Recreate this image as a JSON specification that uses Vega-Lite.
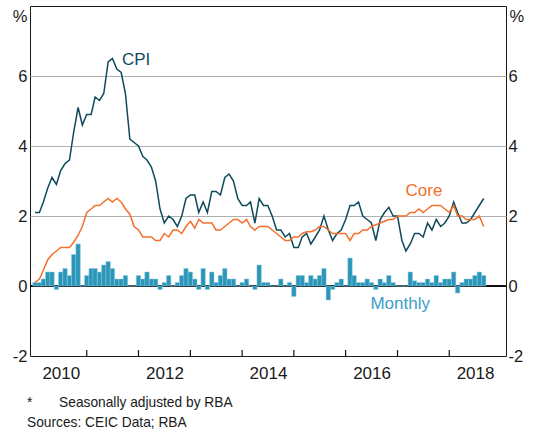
{
  "$schema": "https://vega.github.io/schema/vega-lite/v6.json",
  "width": 476,
  "height": 350,
  "autosize": {"type": "none"},
  "padding": {"left": 30, "top": 6, "right": 27, "bottom": 77},
  "background": "white",
  "config": {
    "view": {"stroke": "#1a1a1a", "strokeWidth": 1},
    "font": "Liberation Sans",
    "axis": {"labelFont": "Liberation Sans", "titleFont": "Liberation Sans", "labelColor": "#1a1a1a", "titleColor": "#1a1a1a", "titleFontWeight": "normal"}
  },
  "title": {
    "text": "*\u00a0\u00a0\u00a0\u00a0\u00a0\u00a0\u00a0Seasonally adjusted by RBA",
    "subtitle": "Sources: CEIC Data; RBA",
    "orient": "bottom",
    "anchor": "start",
    "frame": "group",
    "offset": 15,
    "dx": -3,
    "font": "Liberation Sans",
    "fontSize": 13.75,
    "fontWeight": "normal",
    "color": "#1a1a1a",
    "subtitleFont": "Liberation Sans",
    "subtitleFontSize": 13.75,
    "subtitleColor": "#1a1a1a",
    "subtitlePadding": 6
  },
  "datasets": {
    "yearStarts": [
      {"year_start": "2011-01-01"},
      {"year_start": "2012-01-01"},
      {"year_start": "2013-01-01"},
      {"year_start": "2014-01-01"},
      {"year_start": "2015-01-01"},
      {"year_start": "2016-01-01"},
      {"year_start": "2017-01-01"},
      {"year_start": "2018-01-01"}
    ]
  },
  "data": {
    "values": [
      {"date": "2010-01-01", "cpi": 2.1, "core": 0.1, "monthly": 0.1},
      {"date": "2010-02-01", "cpi": 2.1, "core": 0.2, "monthly": 0.1},
      {"date": "2010-03-01", "cpi": 2.4, "core": 0.45, "monthly": 0.2},
      {"date": "2010-04-01", "cpi": 2.8, "core": 0.75, "monthly": 0.4},
      {"date": "2010-05-01", "cpi": 3.1, "core": 0.9, "monthly": 0.4},
      {"date": "2010-06-01", "cpi": 2.9, "core": 1.0, "monthly": -0.1},
      {"date": "2010-07-01", "cpi": 3.3, "core": 1.1, "monthly": 0.4},
      {"date": "2010-08-01", "cpi": 3.5, "core": 1.1, "monthly": 0.5},
      {"date": "2010-09-01", "cpi": 3.6, "core": 1.1, "monthly": 0.3},
      {"date": "2010-10-01", "cpi": 4.4, "core": 1.25, "monthly": 0.9},
      {"date": "2010-11-01", "cpi": 5.1, "core": 1.45, "monthly": 1.2},
      {"date": "2010-12-01", "cpi": 4.6, "core": 1.7, "monthly": 0},
      {"date": "2011-01-01", "cpi": 4.9, "core": 2.1, "monthly": 0.3},
      {"date": "2011-02-01", "cpi": 4.9, "core": 2.2, "monthly": 0.5},
      {"date": "2011-03-01", "cpi": 5.4, "core": 2.3, "monthly": 0.5},
      {"date": "2011-04-01", "cpi": 5.3, "core": 2.3, "monthly": 0.4},
      {"date": "2011-05-01", "cpi": 5.5, "core": 2.4, "monthly": 0.6},
      {"date": "2011-06-01", "cpi": 6.4, "core": 2.5, "monthly": 0.7},
      {"date": "2011-07-01", "cpi": 6.5, "core": 2.4, "monthly": 0.5},
      {"date": "2011-08-01", "cpi": 6.2, "core": 2.5, "monthly": 0.2},
      {"date": "2011-09-01", "cpi": 6.1, "core": 2.4, "monthly": 0.2},
      {"date": "2011-10-01", "cpi": 5.5, "core": 2.2, "monthly": 0.3},
      {"date": "2011-11-01", "cpi": 4.2, "core": 2.05, "monthly": 0},
      {"date": "2011-12-01", "cpi": 4.1, "core": 1.7, "monthly": 0},
      {"date": "2012-01-01", "cpi": 4.0, "core": 1.6, "monthly": 0.3},
      {"date": "2012-02-01", "cpi": 3.7, "core": 1.4, "monthly": 0.2},
      {"date": "2012-03-01", "cpi": 3.6, "core": 1.4, "monthly": 0.4},
      {"date": "2012-04-01", "cpi": 3.4, "core": 1.4, "monthly": 0.2},
      {"date": "2012-05-01", "cpi": 3.0, "core": 1.3, "monthly": 0.2},
      {"date": "2012-06-01", "cpi": 2.2, "core": 1.3, "monthly": -0.1},
      {"date": "2012-07-01", "cpi": 1.8, "core": 1.5, "monthly": 0.1},
      {"date": "2012-08-01", "cpi": 2.0, "core": 1.4, "monthly": 0.3},
      {"date": "2012-09-01", "cpi": 1.9, "core": 1.6, "monthly": 0},
      {"date": "2012-10-01", "cpi": 1.7, "core": 1.6, "monthly": 0.1},
      {"date": "2012-11-01", "cpi": 2.0, "core": 1.5, "monthly": 0.3},
      {"date": "2012-12-01", "cpi": 2.5, "core": 1.7, "monthly": 0.5},
      {"date": "2013-01-01", "cpi": 2.6, "core": 1.85, "monthly": 0.4},
      {"date": "2013-02-01", "cpi": 2.6, "core": 1.65, "monthly": 0.2},
      {"date": "2013-03-01", "cpi": 2.1, "core": 1.9, "monthly": -0.1},
      {"date": "2013-04-01", "cpi": 2.4, "core": 1.8, "monthly": 0.5},
      {"date": "2013-05-01", "cpi": 2.1, "core": 1.8, "monthly": -0.1},
      {"date": "2013-06-01", "cpi": 2.7, "core": 1.8, "monthly": 0.4},
      {"date": "2013-07-01", "cpi": 2.7, "core": 1.6, "monthly": 0.1},
      {"date": "2013-08-01", "cpi": 2.6, "core": 1.6, "monthly": 0.3},
      {"date": "2013-09-01", "cpi": 3.1, "core": 1.7, "monthly": 0.5},
      {"date": "2013-10-01", "cpi": 3.2, "core": 1.8, "monthly": 0.2},
      {"date": "2013-11-01", "cpi": 3.0, "core": 1.9, "monthly": 0.2},
      {"date": "2013-12-01", "cpi": 2.5, "core": 1.9, "monthly": 0},
      {"date": "2014-01-01", "cpi": 2.3, "core": 1.8, "monthly": 0.1},
      {"date": "2014-02-01", "cpi": 2.3, "core": 1.9, "monthly": 0.2},
      {"date": "2014-03-01", "cpi": 2.4, "core": 1.7, "monthly": 0},
      {"date": "2014-04-01", "cpi": 1.8, "core": 1.6, "monthly": -0.1},
      {"date": "2014-05-01", "cpi": 2.5, "core": 1.7, "monthly": 0.6},
      {"date": "2014-06-01", "cpi": 2.3, "core": 1.7, "monthly": 0.1},
      {"date": "2014-07-01", "cpi": 2.3, "core": 1.7, "monthly": 0.1},
      {"date": "2014-08-01", "cpi": 2.0, "core": 1.6, "monthly": 0},
      {"date": "2014-09-01", "cpi": 1.6, "core": 1.5, "monthly": 0},
      {"date": "2014-10-01", "cpi": 1.6, "core": 1.4, "monthly": 0.2},
      {"date": "2014-11-01", "cpi": 1.4, "core": 1.3, "monthly": 0},
      {"date": "2014-12-01", "cpi": 1.5, "core": 1.3, "monthly": 0.1},
      {"date": "2015-01-01", "cpi": 1.1, "core": 1.4, "monthly": -0.3},
      {"date": "2015-02-01", "cpi": 1.1, "core": 1.4, "monthly": 0.3},
      {"date": "2015-03-01", "cpi": 1.4, "core": 1.5, "monthly": 0.3},
      {"date": "2015-04-01", "cpi": 1.5, "core": 1.55, "monthly": 0.1},
      {"date": "2015-05-01", "cpi": 1.2, "core": 1.55, "monthly": 0.3},
      {"date": "2015-06-01", "cpi": 1.4, "core": 1.6, "monthly": 0.2},
      {"date": "2015-07-01", "cpi": 1.6, "core": 1.7, "monthly": 0.3},
      {"date": "2015-08-01", "cpi": 2.0, "core": 1.7, "monthly": 0.5},
      {"date": "2015-09-01", "cpi": 1.6, "core": 1.6, "monthly": -0.4},
      {"date": "2015-10-01", "cpi": 1.3, "core": 1.5, "monthly": -0.1},
      {"date": "2015-11-01", "cpi": 1.5, "core": 1.5, "monthly": 0.1},
      {"date": "2015-12-01", "cpi": 1.6, "core": 1.5, "monthly": 0.2},
      {"date": "2016-01-01", "cpi": 1.9, "core": 1.5, "monthly": 0},
      {"date": "2016-02-01", "cpi": 2.3, "core": 1.3, "monthly": 0.8},
      {"date": "2016-03-01", "cpi": 2.3, "core": 1.5, "monthly": 0.3},
      {"date": "2016-04-01", "cpi": 2.4, "core": 1.5, "monthly": 0.1},
      {"date": "2016-05-01", "cpi": 2.0, "core": 1.6, "monthly": 0.1},
      {"date": "2016-06-01", "cpi": 1.9, "core": 1.6, "monthly": 0.2},
      {"date": "2016-07-01", "cpi": 1.8, "core": 1.7, "monthly": 0.1},
      {"date": "2016-08-01", "cpi": 1.3, "core": 1.75, "monthly": -0.1},
      {"date": "2016-09-01", "cpi": 1.9, "core": 1.8, "monthly": 0.2},
      {"date": "2016-10-01", "cpi": 2.1, "core": 1.85, "monthly": 0.1},
      {"date": "2016-11-01", "cpi": 2.25, "core": 1.9, "monthly": 0.3},
      {"date": "2016-12-01", "cpi": 2.0, "core": 1.9, "monthly": 0.1},
      {"date": "2017-01-01", "cpi": 2.0, "core": 2.0, "monthly": 0},
      {"date": "2017-02-01", "cpi": 1.3, "core": 2.0, "monthly": 0},
      {"date": "2017-03-01", "cpi": 1.0, "core": 2.0, "monthly": 0},
      {"date": "2017-04-01", "cpi": 1.2, "core": 2.1, "monthly": 0.4},
      {"date": "2017-05-01", "cpi": 1.5, "core": 2.1, "monthly": 0.15},
      {"date": "2017-06-01", "cpi": 1.5, "core": 2.2, "monthly": 0.1},
      {"date": "2017-07-01", "cpi": 1.4, "core": 2.1, "monthly": 0.1},
      {"date": "2017-08-01", "cpi": 1.8, "core": 2.2, "monthly": 0.2},
      {"date": "2017-09-01", "cpi": 1.6, "core": 2.3, "monthly": 0.1},
      {"date": "2017-10-01", "cpi": 1.9, "core": 2.3, "monthly": 0.3},
      {"date": "2017-11-01", "cpi": 1.7, "core": 2.3, "monthly": 0.1},
      {"date": "2017-12-01", "cpi": 1.8, "core": 2.2, "monthly": 0.2},
      {"date": "2018-01-01", "cpi": 2.0, "core": 2.1, "monthly": 0.2},
      {"date": "2018-02-01", "cpi": 2.4, "core": 2.3, "monthly": 0.4},
      {"date": "2018-03-01", "cpi": 2.1, "core": 2.0, "monthly": -0.2},
      {"date": "2018-04-01", "cpi": 1.8, "core": 2.0, "monthly": 0.1},
      {"date": "2018-05-01", "cpi": 1.8, "core": 1.9, "monthly": 0.2},
      {"date": "2018-06-01", "cpi": 1.9, "core": 1.9, "monthly": 0.2},
      {"date": "2018-07-01", "cpi": 2.1, "core": 1.9, "monthly": 0.3},
      {"date": "2018-08-01", "cpi": 2.3, "core": 2.0, "monthly": 0.4},
      {"date": "2018-09-01", "cpi": 2.5, "core": 1.7, "monthly": 0.3}
    ]
  },
  "resolve": {"axis": {"y": "independent"}},
  "layer": [
    {
      "mark": {"type": "rule", "color": "#111111", "strokeWidth": 1},
      "encoding": {
        "y": {"datum": 0, "type": "quantitative", "scale": {"domain": [-2, 8], "nice": false}, "axis": null}
      }
    },
    {
      "mark": {"type": "bar", "width": 4.41, "fill": "#2b96b8", "stroke": "#8fcbe0", "strokeWidth": 0.5, "clip": true},
      "encoding": {
        "x": {
          "field": "date", "type": "temporal",
          "scale": {"type": "utc", "domain": [{"year": 2010, "month": 1, "date": 1, "utc": true}, {"year": 2019, "month": 1, "date": 1, "utc": true}]},
          "axis": {
            "orient": "bottom",
            "values": [
              {"year": 2010, "month": 7, "date": 2, "utc": true},
              {"year": 2012, "month": 7, "date": 2, "utc": true},
              {"year": 2014, "month": 7, "date": 2, "utc": true},
              {"year": 2016, "month": 7, "date": 2, "utc": true},
              {"year": 2018, "month": 7, "date": 2, "utc": true}
            ],
            "labelExpr": "utcFormat(datum.value, '%Y')",
            "ticks": false, "domain": false, "grid": false,
            "labelFontSize": 17, "labelPadding": 9, "title": null
          }
        },
        "y": {
          "field": "monthly", "type": "quantitative",
          "scale": {"domain": [-2, 8], "nice": false},
          "axis": {
            "orient": "left", "values": [-2, 0, 2, 4, 6],
            "labelExpr": "'' + datum.value",
            "domain": false, "ticks": false,
            "labelPadding": 3, "labelFontSize": 16.5,
            "grid": true, "gridColor": "#b0b0b0", "gridWidth": 1,
            "gridOpacity": {"condition": {"test": "datum.value <= 0", "value": 0}, "value": 1},
            "title": "%", "titleAngle": 0, "titleX": -3, "titleY": 10,
            "titleAlign": "right", "titleBaseline": "middle", "titleFontSize": 16.5
          }
        }
      }
    },
    {
      "data": {"name": "yearStarts"},
      "mark": {"type": "rule", "color": "#111111", "strokeWidth": 1.2},
      "encoding": {
        "x": {"field": "year_start", "type": "temporal"},
        "y": {"datum": -2, "type": "quantitative", "axis": null},
        "y2": {"datum": -1.83}
      }
    },
    {
      "mark": {"type": "line", "color": "#0f4a5c", "strokeWidth": 1.5},
      "encoding": {
        "x": {"field": "date", "type": "temporal"},
        "y": {
          "field": "cpi", "type": "quantitative",
          "axis": {
            "orient": "right", "values": [-2, 0, 2, 4, 6],
            "labelExpr": "'' + datum.value",
            "domain": false, "ticks": false, "grid": false,
            "labelPadding": 2, "labelFontSize": 16.5,
            "title": "%", "titleAngle": 0, "titleX": 3, "titleY": 10,
            "titleAlign": "left", "titleBaseline": "middle", "titleFontSize": 16.5
          }
        }
      }
    },
    {
      "mark": {"type": "line", "color": "#f36f2b", "strokeWidth": 1.5},
      "encoding": {
        "x": {"field": "date", "type": "temporal"},
        "y": {"field": "core", "type": "quantitative", "axis": null}
      }
    },
    {
      "data": {"values": [{"date": "2011-09-06", "value": 6.45, "label": "CPI"}]},
      "mark": {"type": "text", "align": "left", "baseline": "middle", "fontSize": 17, "color": "#0f4a5c", "font": "Liberation Sans"},
      "encoding": {
        "x": {"field": "date", "type": "temporal"},
        "y": {"field": "value", "type": "quantitative", "axis": null},
        "text": {"field": "label"}
      }
    },
    {
      "data": {"values": [{"date": "2017-07-07", "value": 2.72, "label": "Core"}]},
      "mark": {"type": "text", "align": "center", "baseline": "middle", "fontSize": 17, "color": "#f36f2b", "font": "Liberation Sans"},
      "encoding": {
        "x": {"field": "date", "type": "temporal"},
        "y": {"field": "value", "type": "quantitative", "axis": null},
        "text": {"field": "label"}
      }
    },
    {
      "data": {"values": [{"date": "2017-01-20", "value": -0.51, "label": "Monthly"}]},
      "mark": {"type": "text", "align": "center", "baseline": "middle", "fontSize": 17, "color": "#3aa0c6", "font": "Liberation Sans"},
      "encoding": {
        "x": {"field": "date", "type": "temporal"},
        "y": {"field": "value", "type": "quantitative", "axis": null},
        "text": {"field": "label"}
      }
    }
  ]
}
